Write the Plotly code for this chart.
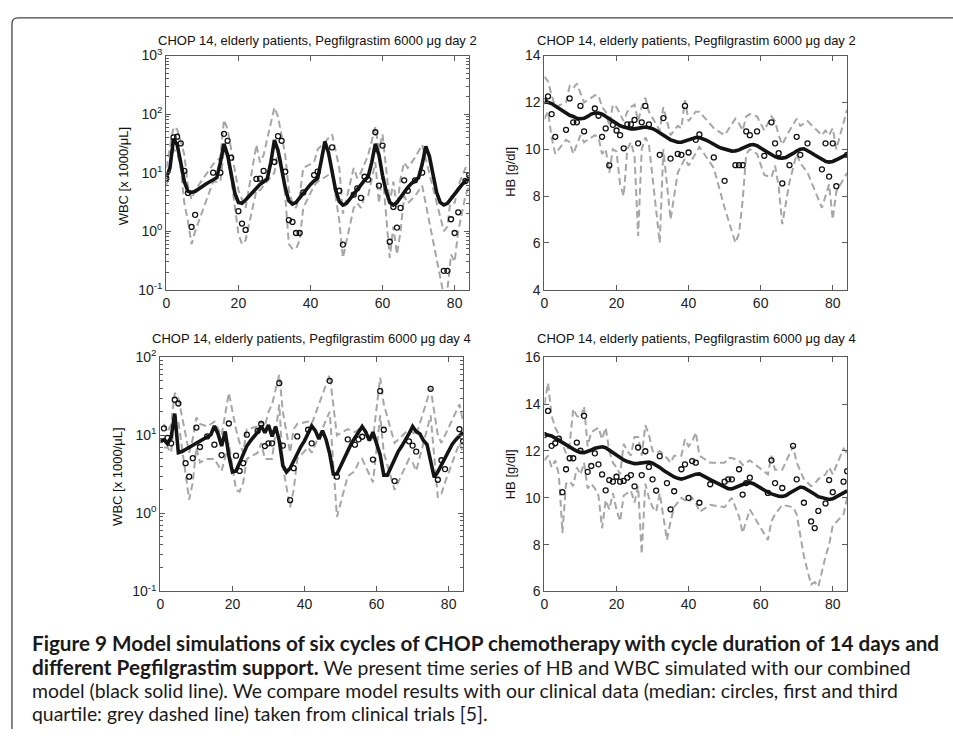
import plotly.graph_objects as go

# ---------------- data ----------------
model_days = list(range(85))

# WBC model, Pegfilgrastim day 2 (x1000/uL)
wbc2_model = [8.3, 12, 38, 30, 15, 7, 4.8, 4.6, 4.8, 5.2, 5.8, 6.4, 7.0, 7.6, 8.2, 15, 31, 20, 9, 4.5,
              3.1, 3.0, 3.4, 4.0, 4.8, 5.6, 6.3, 7.0, 7.8, 15, 36, 24, 11, 5.5, 3.3, 2.9, 3.1, 3.7, 4.5, 5.4,
              6.3, 7.2, 8.0, 16, 34, 22, 10, 5, 3.2, 2.8, 3.0, 3.6, 4.5, 5.4, 6.4, 7.4, 8.5, 15, 31, 20,
              9, 4.8, 3.1, 2.8, 3.1, 3.8, 4.7, 5.6, 6.5, 7.4, 8.2, 14, 28, 19, 9, 4.6, 3.1, 2.8, 3.0, 3.6,
              4.4, 5.3, 6.2, 7.1, 8.0]
wbc2_days = [0, 2, 3, 4, 5, 6, 7, 8, 13, 15, 16, 17, 18, 20, 21, 22, 25, 26, 27, 30, 31, 32, 33, 34, 35,
             36, 37, 38, 41, 42, 46, 48, 49, 52, 53, 54, 55, 56, 58, 59, 60, 62, 63, 64, 65, 66, 67, 69,
             71, 77, 78, 79, 80, 81, 83, 84]
wbc2_median = [8.0, 40, 41, 31.6, 10.7, 4.5, 1.18, 1.9, 10, 10, 46, 35, 18, 2.2, 1.35, 1.05, 7.8, 7.9,
               10.7, 15.2, 42, 35, 10.4, 1.55, 1.44, 0.93, 0.93, 4.6, 9.1, 10.4, 27, 4.9, 0.59, 4.2, 5.4,
               3.7, 8.5, 7.6, 49, 6.0, 29, 0.66, 2.6, 1.15, 2.5, 7.4, 4.9, 7.4, 10, 0.21, 0.21, 1.6, 0.93,
               2.1, 7.2, 9.1]
wbc2_q3 = [12, 60, 55, 35, 20, 6, 3.5, 5, 14, 18, 80, 55, 25, 5, 3.5, 2.5, 30, 15, 20, 130, 90, 45, 20,
           5, 3, 2.5, 4, 12, 15, 25, 45, 12, 2, 12, 8, 10, 14, 20, 60, 25, 45, 3, 7, 2.5, 8, 15, 12, 18,
           30, 1.0, 1.2, 4, 3, 6, 12, 14]
wbc2_q1 = [6, 25, 22, 12, 3, 1.5, 0.6, 1.0, 7, 7, 25, 18, 8, 0.9, 0.6, 0.7, 5, 5, 6, 10, 25, 15, 4, 0.6,
           0.5, 0.5, 0.7, 2.5, 6, 7, 10, 1.5, 0.35, 2.5, 3, 2.5, 4, 4, 15, 3, 10, 0.35, 1.2, 0.4, 1.0, 4,
           3, 4, 6, 0.08, 0.1, 0.4, 0.3, 1.0, 4, 6]

# HB model, Pegfilgrastim day 2 (g/dl)
hb2_model = [12.05, 12.0, 11.95, 11.85, 11.75, 11.65, 11.55, 11.45, 11.4, 11.32, 11.3, 11.32, 11.4, 11.5,
             11.55, 11.55, 11.5, 11.4, 11.3, 11.2, 11.1, 11.0, 10.95, 10.9, 10.87, 10.87, 10.9, 10.95,
             10.95, 10.92, 10.88, 10.8, 10.7, 10.6, 10.5, 10.4, 10.35, 10.3, 10.3, 10.35, 10.4, 10.45,
             10.5, 10.5, 10.45, 10.38, 10.3, 10.2, 10.12, 10.05, 10.0, 9.95, 9.92, 9.93, 9.97, 10.05,
             10.12, 10.18, 10.2, 10.15, 10.05, 9.95, 9.85, 9.75, 9.68, 9.63, 9.62, 9.65, 9.72, 9.82, 9.92,
             10.0, 10.02, 9.95, 9.85, 9.75, 9.65, 9.55, 9.48, 9.45, 9.48, 9.55, 9.62, 9.7, 9.78]
hb2_days = [0, 1, 2, 3, 6, 7, 8, 9, 10, 11, 14, 15, 16, 17, 18, 19, 20, 21, 22, 23, 24, 25, 26, 27, 28,
            29, 32, 33, 35, 37, 38, 39, 40, 42, 43, 47, 50, 53, 54, 55, 56, 57, 59, 61, 63, 64, 65, 66,
            68, 70, 71, 73, 77, 78, 79, 80, 81, 84]
hb2_median = [12.06, 12.26, 11.5, 10.53, 10.83, 12.17, 11.15, 11.15, 11.85, 10.76, 11.74, 11.43, 10.53,
              10.89, 9.31, 11.04, 10.8, 10.6, 10.04, 11.06, 11.06, 11.25, 10.25, 11.15, 11.85, 11.06,
              9.76, 11.33, 9.6, 9.8, 9.76, 11.85, 9.86, 10.4, 10.63, 9.65, 8.65, 9.32, 9.32, 9.32, 10.76,
              10.6, 10.76, 9.72, 11.15, 10.25, 9.83, 8.54, 9.32, 10.53, 9.76, 10.25, 9.14, 10.25, 8.83,
              10.25, 8.42, 9.76]
hb2_q3 = [13.1, 12.9, 12.3, 11.8, 12.0, 12.7, 12.6, 12.8, 12.4, 12.0, 12.3, 12.3, 11.8, 11.6, 11.0, 11.9,
          11.8, 11.5, 11.2, 11.6, 11.8, 11.9, 11.2, 11.8, 12.2, 11.6, 10.8, 11.8, 10.6, 11.0, 10.9, 12.1,
          11.2, 11.6, 11.6, 10.9, 10.6, 11.3, 11.1, 10.8, 11.4, 11.5, 11.4, 10.8, 11.4, 11.2, 10.6, 10.2,
          10.8, 11.3, 11.0, 11.2, 10.6, 10.8, 10.6, 10.9, 10.0, 11.7]
hb2_q1 = [11.3, 11.6, 10.5, 9.8, 10.4, 10.3, 9.8, 10.2, 10.6, 10.3, 10.6, 10.5, 9.8, 10.0, 9.0, 10.0, 9.9,
          8.5, 8.0, 10.0, 10.3, 9.7, 6.3, 10.0, 10.5, 10.2, 6.0, 10.0, 7.0, 9.0, 9.3, 9.6, 9.3, 9.8, 10.1,
          9.2, 7.5, 6.0, 6.4, 7.8, 9.8, 10.0, 9.8, 8.9, 8.8, 9.3, 8.4, 6.8, 8.6, 9.8, 9.4, 9.0, 7.5, 8.0,
          8.5, 7.0, 8.2, 9.0]

# WBC model, Pegfilgrastim day 4
wbc4_model = [8.4, 8.8, 7.8, 9.5, 19, 6.0, 6.2, 6.6, 7.0, 7.5, 8.0, 8.6, 9.2, 9.7, 10.2, 13.2, 10.5, 7.3,
              11.2, 5.5, 3.4, 3.5, 4.5, 5.8, 7.3, 8.5, 9.7, 11.0, 13.2, 10.8, 13.6, 9.7, 12.9, 8.5, 4.1,
              3.4, 3.8, 4.8, 6.0, 7.2, 8.5, 10.5, 13.2, 11.5, 9.0, 11.5, 8.8, 5.8, 3.2, 3.2, 4.0, 5.2, 6.6,
              7.9, 9.3, 11.2, 13.0, 11.0, 8.6, 11.0, 7.8, 5.6, 3.1, 3.1, 3.9, 5.0, 6.2, 7.3, 8.6, 10.5,
              13.0, 11.2, 10.5, 8.6, 7.6, 4.6, 2.9, 3.4, 4.2, 5.3, 6.5, 7.7, 8.8, 10.0, 11.0]
wbc4_days = [1, 2, 3, 4, 5, 7, 8, 9, 10, 11, 13, 15, 17, 19, 21, 22, 23, 24, 27, 28, 29, 30, 31, 33, 34,
             36, 37, 38, 41, 42, 47, 49, 52, 54, 55, 56, 59, 61, 62, 65, 69, 70, 71, 75, 77, 78, 79, 83, 84]
wbc4_median = [12.3, 9.3, 7.9, 28.6, 25.6, 4.4, 2.96, 5.1, 12.6, 7.1, 9.7, 7.6, 5.6, 14.2, 5.5, 3.5, 4.4,
               10.2, 11.4, 14.0, 7.3, 7.9, 7.9, 46.7, 7.4, 1.48, 3.8, 9.7, 11.8, 7.9, 50, 2.96, 8.9, 7.6,
               8.9, 9.6, 4.9, 37, 11.8, 2.6, 8.4, 7.4, 6.2, 39.5, 2.7, 4.8, 3.7, 12, 8.4]
wbc4_q3 = [14, 11, 14, 35, 30, 10, 6, 9, 17, 14, 13, 15, 10, 35, 12, 8, 6, 12, 13, 15, 13, 20, 25, 60, 20,
           6, 12, 14, 15, 14, 60, 10, 12, 11, 12, 13, 9, 55, 25, 8, 12, 11, 10, 40, 10, 8, 10, 25, 15]
wbc4_q1 = [7, 7, 6, 18, 15, 3, 1.5, 2.5, 7, 4.5, 5, 5, 3.5, 8, 2.0, 1.9, 2.5, 5, 6, 8, 5, 5, 5, 25, 4, 1.2,
           2, 5, 7, 6, 20, 0.9, 3, 3.5, 4.5, 5, 2.5, 18, 6, 2.0, 5, 4.5, 3.5, 18, 1.6, 1.8, 2.5, 8, 6]

# HB model, Pegfilgrastim day 4
hb4_model = [12.71, 12.69, 12.64, 12.55, 12.45, 12.36, 12.27, 12.18, 12.08, 12.0, 11.94, 11.93, 11.97,
             12.04, 12.12, 12.16, 12.18, 12.14, 12.03, 11.92, 11.8, 11.7, 11.62, 11.55, 11.5, 11.46,
             11.47, 11.5, 11.52, 11.53, 11.48, 11.4, 11.3, 11.18, 11.07, 10.97, 10.89, 10.83, 10.8,
             10.84, 10.91, 10.98, 11.01, 11.02, 10.96, 10.86, 10.78, 10.7, 10.61, 10.53, 10.45, 10.39,
             10.38, 10.43, 10.5, 10.57, 10.63, 10.65, 10.6, 10.5, 10.4, 10.32, 10.24, 10.17, 10.1, 10.07,
             10.06, 10.1, 10.2, 10.3, 10.4, 10.46, 10.43, 10.35, 10.25, 10.15, 10.05, 10.0, 9.97, 9.93,
             9.96, 10.05, 10.14, 10.22, 10.3]
hb4_days = [0, 1, 2, 3, 4, 5, 6, 7, 8, 9, 10, 11, 12, 13, 14, 15, 16, 17, 18, 19, 20, 21, 22, 23, 24, 25,
            26, 27, 28, 29, 30, 31, 32, 34, 35, 36, 38, 39, 40, 41, 42, 43, 46, 50, 51, 52, 54, 55, 56,
            57, 62, 63, 64, 66, 69, 70, 72, 74, 75, 76, 78, 79, 80, 83, 84]
hb4_median = [12.68, 13.71, 12.22, 12.33, 12.53, 10.24, 11.22, 11.69, 11.69, 12.36, 12.01, 13.5, 11.11,
              11.36, 11.9, 11.43, 11.0, 10.32, 10.76, 10.69, 10.9, 10.69, 10.72, 10.86, 10.97, 10.49,
              12.15, 10.97, 11.99, 11.32, 10.79, 10.31, 11.78, 10.63, 9.51, 10.28, 11.22, 11.43, 10.0,
              11.57, 11.5, 9.79, 10.58, 10.69, 10.79, 10.79, 11.22, 10.14, 10.63, 10.86, 10.21, 11.6,
              10.63, 10.42, 12.22, 10.79, 9.79, 8.99, 8.71, 9.44, 9.76, 10.76, 10.24, 10.69, 11.14]
hb4_q3 = [14.0, 14.9, 13.5, 13.0, 12.7, 12.3, 11.9, 12.3, 13.8, 13.5, 13.4, 13.9, 12.2, 12.8, 12.9, 13.0,
          12.5, 13.0, 12.0, 11.5, 11.3, 11.0, 12.3, 12.0, 11.8, 12.6, 12.6, 11.8, 13.1, 12.7, 12.0, 11.9,
          12.0, 11.7, 11.5, 11.8, 11.8, 12.5, 12.2, 12.4, 12.8, 11.8, 11.5, 11.5, 11.7, 11.7, 11.6, 11.4,
          11.5, 11.6, 11.0, 11.8, 11.2, 11.2, 12.2, 11.5, 10.8, 10.5, 10.6, 10.8, 11.0, 11.3, 11.0, 12.1,
          11.9]
hb4_q1 = [11.6, 11.8, 11.3, 11.6, 11.0, 8.5, 10.6, 10.7, 10.5, 11.3, 11.0, 11.5, 10.4, 10.6, 10.4, 10.1,
          8.7, 9.9, 9.5, 10.2, 9.5, 9.0, 10.1, 10.2, 10.3, 9.8, 10.5, 7.6, 10.6, 10.0, 9.6, 9.4, 10.2, 8.2,
          9.0, 9.6, 10.0, 9.9, 9.8, 10.0, 9.8, 9.4, 9.7, 9.6, 9.8, 10.0, 9.2, 8.5, 9.0, 9.5, 8.2, 9.0, 9.3,
          9.7, 9.6, 9.3, 7.5, 6.3, 6.4, 6.2, 7.5, 8.0, 8.8, 9.3, 10.0]

x_ticks = [0, 20, 40, 60, 80]
title_day2 = "CHOP 14, elderly patients, Pegfilgrastim 6000 μg day 2"
title_day4 = "CHOP 14, elderly patients, Pegfilgrastim 6000 μg day 4"
wbc_label = "WBC [x 1000/μL]"
hb_label = "HB [g/dl]"
BOLD = "<span style='font-size:20.7px'><b>%s</b></span>"
caption_lines = [
    BOLD % "Figure 9 Model simulations of six cycles of CHOP chemotherapy with cycle duration of 14 days and",
    BOLD % "different Pegfilgrastim support." + " We present time series of HB and WBC simulated with our combined",
    "model (black solid line). We compare model results with our clinical data (median: circles, first and third",
    "quartile: grey dashed line) taken from clinical trials [5].",
]

# ---------------- figure ----------------
W, H = 953, 739
px = lambda v: v / W
py = lambda v: 1 - v / H

fig = go.Figure()

panels = [
    # (axis suffix, model, days, median, q3, q1)
    ("", wbc2_model, wbc2_days, wbc2_median, wbc2_q3, wbc2_q1),
    ("2", hb2_model, hb2_days, hb2_median, hb2_q3, hb2_q1),
    ("3", wbc4_model, wbc4_days, wbc4_median, wbc4_q3, wbc4_q1),
    ("4", hb4_model, hb4_days, hb4_median, hb4_q3, hb4_q1),
]

DASH_COL = "#a6a6a6"
for sfx, model, days, med, q3, q1 in panels:
    xa, ya = "x" + sfx, "y" + sfx
    for q in (q3, q1):
        fig.add_trace(go.Scatter(x=days, y=q, mode="lines", xaxis=xa, yaxis=ya,
                                 line=dict(color=DASH_COL, width=2, dash="7px,4px"),
                                 showlegend=False, hoverinfo="skip"))
    fig.add_trace(go.Scatter(x=model_days, y=model, mode="lines", xaxis=xa, yaxis=ya,
                             line=dict(color="#141414", width=3.6),
                             showlegend=False))
    fig.add_trace(go.Scatter(x=days, y=med, mode="markers", xaxis=xa, yaxis=ya,
                             marker=dict(symbol="circle-open", size=5, color="#111",
                                         line=dict(width=1.3, color="#111")),
                             cliponaxis=True, showlegend=False))

AX_COL = "#5a5a5a"
TICK_FONT = dict(family="Liberation Sans, Arial, sans-serif", size=14, color="#222")
common = dict(showline=True, linecolor=AX_COL, linewidth=1, mirror="ticks", ticks="inside",
              ticklen=5, tickcolor=AX_COL, showgrid=False, zeroline=False, tickfont=TICK_FONT)

def xaxis(dom):
    return dict(domain=dom, range=[0, 84], tickvals=x_ticks, ticklabelstandoff=0, **common)

def log_yaxis(dom, lo, hi):
    vals = [10 ** k for k in range(lo, hi + 1)]
    txt = ["10<sup>%d</sup>" % k for k in range(lo, hi + 1)]
    return dict(domain=dom, type="log", range=[lo, hi], tickmode="array", tickvals=vals,
                ticktext=txt, minor=dict(ticks="inside", ticklen=3, tickcolor=AX_COL, dtick="D1",
                                         showgrid=False), **common)

def lin_yaxis(dom, lo, hi):
    return dict(domain=dom, range=[lo, hi], tickvals=list(range(lo, hi + 1, 2)), **common)

top = [py(286.7), py(46.7)]
bot = [py(596), py(356)]
left_top = [px(163), px(467)]
left_bot = [px(157), px(461)]
right = [px(542.7), px(846.7)]

fig.update_layout(
    width=W, height=H, margin=dict(l=0, r=0, t=0, b=0),
    paper_bgcolor="white", plot_bgcolor="white",
    xaxis=dict(anchor="y", **xaxis(left_top)),
    yaxis=dict(anchor="x", **log_yaxis(top, -1, 3)),
    xaxis2=dict(anchor="y2", **xaxis(right)),
    yaxis2=dict(anchor="x2", **lin_yaxis(top, 4, 14)),
    xaxis3=dict(anchor="y3", **xaxis(left_bot)),
    yaxis3=dict(anchor="x3", **log_yaxis(bot, -1, 2)),
    xaxis4=dict(anchor="y4", **xaxis(right)),
    yaxis4=dict(anchor="x4", **lin_yaxis(bot, 6, 16)),
)

TITLE_FONT = dict(family="Liberation Sans, Arial, sans-serif", size=13, color="#111")
ann = []
for text, xc, yc in [(title_day2, 315, 31), (title_day2, 695, 31),
                     (title_day4, 309, 337), (title_day4, 695, 337)]:
    ann.append(dict(text=text, x=px(xc), y=py(yc), xref="paper", yref="paper",
                    showarrow=False, font=TITLE_FONT, xanchor="center", yanchor="middle"))
for text, xc, yc in [(wbc_label, 120, 170), (hb_label, 509, 166),
                     (wbc_label, 114, 478), (hb_label, 509, 476)]:
    ann.append(dict(text=text, x=px(xc), y=py(yc), xref="paper", yref="paper", textangle=-90,
                    showarrow=False, font=TITLE_FONT, xanchor="center", yanchor="middle"))

CAP_FONT = dict(family="Lato, Noto Sans, sans-serif", size=19.4, color="#1a1a1a")
for i, line in enumerate(caption_lines):
    ann.append(dict(text=line, x=px(26), y=py(649 + 24 * i), xref="paper", yref="paper",
                    showarrow=False, font=CAP_FONT, xanchor="left", yanchor="middle", align="left"))
fig.update_layout(annotations=ann)

# rounded page frame on the top and left edges
fig.add_shape(type="path", xref="paper", yref="paper",
              path=f"M {px(8)},{py(737)} L {px(8)},{py(14)} Q {px(8)},{py(8)} {px(14)},{py(8)} L 1,{py(8)}",
              line=dict(color="#444", width=1.3))

fig.write_html("out.html")
